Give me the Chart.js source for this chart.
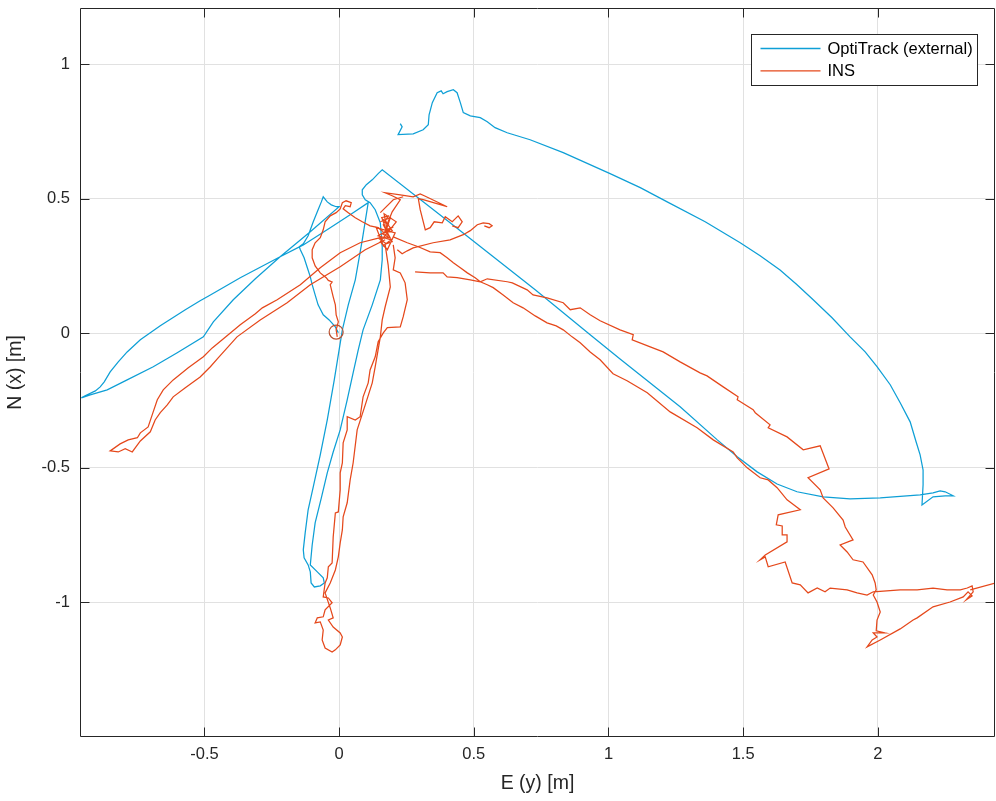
<!DOCTYPE html>
<html><head><meta charset="utf-8">
<script src="https://cdn.jsdelivr.net/npm/chart.js@4.4.0/dist/chart.umd.min.js"></script>
<style>html,body{margin:0;padding:0;background:#fff;}canvas{display:block;}</style>
</head><body>
<canvas id="c" width="996" height="801"></canvas>
<script>
// ---------- data (E [m], N [m]) ----------
const seriesNames = ['OptiTrack (external)', 'INS'];
const xTicks = [-0.5, 0, 0.5, 1, 1.5, 2];
const yTicks = [-1, -0.5, 0, 0.5, 1];
const xRange = [-0.962, 2.435];
const yRange = [-1.502, 1.209];
const startPoint = [[-0.011, 0.004]];

const optiTrackPath = [
[-0.003,0.001],[-0.014,0.023],[-0.037,0.049],[-0.059,0.068],[-0.078,0.105],[-0.089,0.142],[-0.100,0.180],[-0.107,0.209],[-0.118,0.243],[-0.130,0.280],[-0.144,0.310],[-0.148,0.321],
[-0.133,0.332],[-0.115,0.362],[-0.096,0.414],[-0.078,0.459],[-0.066,0.488],[-0.059,0.507],
[-0.044,0.488],[-0.029,0.477],[-0.011,0.470],[0.000,0.470],
[-0.107,0.377],[-0.219,0.284],[-0.311,0.202],[-0.393,0.124],[-0.467,0.042],[-0.504,-0.014],[-0.601,-0.073],[-0.690,-0.125],[-0.787,-0.174],[-0.861,-0.211],[-0.924,-0.230],[-0.957,-0.241],
[-0.943,-0.233],[-0.905,-0.215],[-0.887,-0.200],[-0.872,-0.181],[-0.850,-0.144],[-0.820,-0.107],[-0.787,-0.070],[-0.738,-0.025],[-0.664,0.027],[-0.571,0.087],[-0.516,0.120],[-0.478,0.142],[-0.367,0.206],[-0.219,0.284],[-0.133,0.328],[-0.033,0.392],[0.041,0.440],[0.108,0.485],
[0.086,0.347],[0.060,0.198],[0.034,0.105],[0.012,0.012],[-0.018,-0.174],[-0.044,-0.323],[-0.070,-0.453],[-0.096,-0.572],[-0.115,-0.657],[-0.126,-0.743],[-0.133,-0.806],[-0.130,-0.836],[-0.115,-0.862],[-0.107,-0.888],[-0.104,-0.929],[-0.092,-0.944],[-0.070,-0.940],[-0.055,-0.929],[-0.059,-0.910],[-0.081,-0.888],[-0.107,-0.862],
[-0.100,-0.788],[-0.089,-0.706],[-0.066,-0.613],[-0.044,-0.520],[-0.022,-0.442],[0.004,-0.360],[0.030,-0.248],[0.052,-0.148],[0.071,-0.062],[0.089,0.012],[0.123,0.105],[0.153,0.198],[0.160,0.273],[0.160,0.321],[0.153,0.410],[0.134,0.459],[0.115,0.485],
[0.097,0.496],[0.086,0.514],[0.086,0.533],[0.101,0.552],[0.123,0.570],[0.145,0.593],[0.160,0.607],
[0.412,0.410],[0.728,0.161],[0.932,-0.006],[1.043,-0.096],[1.266,-0.274],[1.404,-0.397],[1.478,-0.460],[1.552,-0.516],[1.626,-0.561],[1.700,-0.590],[1.797,-0.609],[1.897,-0.616],[2.009,-0.613],[2.157,-0.602],[2.205,-0.594],[2.231,-0.587],[2.250,-0.590],[2.280,-0.605],[2.250,-0.605],[2.205,-0.609],[2.164,-0.639],
[2.168,-0.564],[2.168,-0.509],[2.157,-0.453],[2.142,-0.404],[2.120,-0.330],[2.083,-0.259],[2.046,-0.192],[1.997,-0.125],[1.953,-0.070],[1.897,-0.014],[1.830,0.057],[1.760,0.124],[1.700,0.180],[1.637,0.235],[1.563,0.288],[1.489,0.336],[1.359,0.414],[1.218,0.488],[1.118,0.541],[1.006,0.593],[0.832,0.671],[0.709,0.719],[0.624,0.745],[0.579,0.764],[0.550,0.786],[0.524,0.801],[0.487,0.808],[0.461,0.820],[0.450,0.857],[0.438,0.894],[0.424,0.905],[0.401,0.898],[0.386,0.890],[0.379,0.901],[0.364,0.894],[0.346,0.857],[0.334,0.812],[0.331,0.775],[0.312,0.756],[0.275,0.741],[0.219,0.738],[0.234,0.767],[0.227,0.779]
];

// INS trajectory pieces
const insStartClimb = [
[-0.007,-0.014],[-0.011,0.012],[-0.003,0.042],[-0.011,0.068],[-0.014,0.105],[-0.022,0.135],[-0.033,0.180],[-0.026,0.190],[-0.040,0.196],[-0.048,0.206],[-0.070,0.224],[-0.089,0.250],[-0.100,0.280],[-0.100,0.310],[-0.089,0.336],[-0.070,0.355],[-0.059,0.384],[-0.052,0.414],[-0.033,0.436],[-0.011,0.448],[0.004,0.462],[0.012,0.485],[0.026,0.492],[0.045,0.485],[0.041,0.470],[0.023,0.474],[0.015,0.462],[0.034,0.448],[0.060,0.429],[0.086,0.414],[0.115,0.399],[0.145,0.392],[0.164,0.377]
];
const insWestLoop = [
[0.153,0.355],[0.078,0.336],[0.004,0.299],[-0.070,0.243],[-0.144,0.180],[-0.230,0.124],[-0.285,0.094],[-0.311,0.072],[-0.367,0.031],[-0.434,-0.025],[-0.471,-0.055],[-0.504,-0.088],[-0.560,-0.129],[-0.616,-0.174],[-0.653,-0.211],[-0.675,-0.248],[-0.694,-0.304],[-0.709,-0.349],[-0.738,-0.371],[-0.749,-0.389],[-0.783,-0.397],[-0.813,-0.412],[-0.850,-0.438],[-0.820,-0.442],[-0.794,-0.430],[-0.768,-0.442],[-0.738,-0.401],[-0.701,-0.367],[-0.683,-0.323],[-0.664,-0.296],[-0.638,-0.267],[-0.616,-0.237],[-0.571,-0.203],[-0.516,-0.163],[-0.478,-0.125],[-0.449,-0.092],[-0.379,-0.014],[-0.293,0.049],[-0.193,0.113],[-0.107,0.180],[0.004,0.247],[0.097,0.310],[0.171,0.347]
];
const insTopZigzag = [
[0.171,0.377],[0.182,0.414],[0.197,0.451],[0.227,0.496],[0.197,0.511],[0.171,0.522],[0.227,0.514],[0.275,0.507],[0.301,0.518],[0.316,0.511],[0.401,0.470],[0.312,0.496],[0.294,0.500],[0.301,0.459],[0.320,0.384],[0.338,0.392],[0.353,0.414],[0.383,0.410],[0.394,0.433],[0.420,0.414],[0.442,0.436],[0.457,0.414],[0.442,0.392],[0.420,0.399]
];
const insTopLink = [[0.153,0.448],[0.201,0.496],[0.238,0.507]];
const insEastSpur = [
[0.216,0.310],[0.234,0.295],[0.253,0.306],[0.275,0.317],[0.349,0.336],[0.412,0.347],[0.461,0.366],[0.487,0.381],[0.513,0.403],[0.535,0.410],[0.557,0.407],[0.568,0.399],[0.557,0.392],[0.539,0.399]
];
const insSouthEastRun = [
[0.201,0.358],[0.253,0.336],[0.294,0.321],[0.338,0.302],[0.375,0.299],[0.401,0.280],[0.424,0.262],[0.450,0.243],[0.476,0.224],[0.505,0.206],[0.524,0.191],[0.550,0.180],[0.572,0.169],[0.609,0.142],[0.646,0.113],[0.683,0.094],[0.728,0.064],[0.772,0.038],[0.806,0.027],[0.832,0.012],[0.865,-0.014],[0.895,-0.036],[0.932,-0.070],[0.969,-0.099],[1.017,-0.151],[1.069,-0.177],[1.144,-0.222],[1.229,-0.293],[1.329,-0.352],[1.389,-0.397],[1.463,-0.442],[1.478,-0.464],[1.515,-0.501],[1.563,-0.538],[1.593,-0.546],[1.626,-0.575],[1.663,-0.620],[1.674,-0.628],[1.712,-0.657],[1.630,-0.676],[1.623,-0.713],[1.645,-0.717],[1.645,-0.750],[1.663,-0.750],[1.663,-0.776],[1.582,-0.825],[1.563,-0.843],[1.582,-0.832],[1.593,-0.869],[1.656,-0.851],[1.682,-0.929],[1.712,-0.936],[1.741,-0.966],[1.775,-0.948],[1.804,-0.962],[1.823,-0.948],[1.886,-0.955],[1.923,-0.966],[1.960,-0.974],[1.983,-0.962],
[2.083,-0.955],[2.146,-0.955],[2.205,-0.948],[2.257,-0.955],[2.306,-0.955],[2.332,-0.948],
[2.350,-0.940],[2.354,-0.962],[2.328,-0.992],[2.350,-0.977],[2.335,-0.962],[2.317,-0.981],
[2.268,-1.000],[2.205,-1.018],[2.146,-1.059],[2.131,-1.067],[2.083,-1.100],[2.009,-1.141],[1.960,-1.167],
[1.979,-1.141],[1.997,-1.130],[1.983,-1.115],[2.027,-1.115],[1.994,-1.107],[1.997,-1.067],[2.009,-1.037],[1.997,-1.000],[1.983,-0.974],[1.994,-0.955],[1.990,-0.929],[1.979,-0.899],[1.945,-0.851],[1.908,-0.843],[1.886,-0.814],[1.860,-0.788],[1.908,-0.769],[1.879,-0.721],[1.871,-0.695],[1.834,-0.650],[1.797,-0.613],[1.786,-0.583],[1.741,-0.538],[1.819,-0.505],[1.786,-0.419],[1.723,-0.434],[1.663,-0.386],[1.593,-0.352],[1.600,-0.341],[1.545,-0.296],[1.537,-0.285],[1.478,-0.248],[1.481,-0.237],[1.426,-0.200],[1.366,-0.159],[1.340,-0.148],[1.266,-0.107],[1.203,-0.070],[1.155,-0.051],[1.088,-0.025],[1.092,-0.006],[1.043,0.012],[0.969,0.046],[0.932,0.068],[0.895,0.094],[0.858,0.087],[0.832,0.113],[0.772,0.131],[0.720,0.142],[0.698,0.161],[0.643,0.187],[0.624,0.191],[0.550,0.202],[0.524,0.191],[0.487,0.198],[0.438,0.206],[0.401,0.209],[0.386,0.224],[0.338,0.224],[0.282,0.228]
];
const insEastExit = [[2.343,-0.955],[2.439,-0.929],[2.503,-0.910]];
const insSouthLoop = [
[0.201,0.328],[0.208,0.280],[0.201,0.235],[0.227,0.224],[0.245,0.187],[0.253,0.124],[0.238,0.061],[0.227,0.023],[0.179,0.020],[0.164,0.001],[0.145,-0.032],[0.134,-0.088],[0.115,-0.137],[0.108,-0.185],[0.089,-0.237],[0.078,-0.311],[0.060,-0.323],[0.030,-0.311],[0.030,-0.360],[0.015,-0.408],[0.012,-0.483],[0.004,-0.520],[0.004,-0.583],[-0.003,-0.665],[-0.014,-0.669],[-0.022,-0.758],[-0.026,-0.855],[-0.040,-0.869],[-0.044,-0.910],[-0.052,-0.929],[-0.059,-0.981],
[-0.040,-0.985],[-0.026,-1.003],[-0.052,-1.029],[-0.059,-1.055],[-0.081,-1.059],[-0.089,-1.078],[-0.070,-1.074],[-0.059,-1.104],[-0.063,-1.141],[-0.052,-1.171],[-0.026,-1.186],[-0.014,-1.178],[0.004,-1.160],[0.012,-1.130],[0.004,-1.115],[-0.022,-1.093],[-0.040,-1.067],[-0.022,-1.059],[-0.033,-1.022],[-0.052,-0.966],
[-0.033,-0.929],[-0.014,-0.881],[-0.003,-0.832],[0.004,-0.780],[0.012,-0.732],[0.015,-0.683],[0.030,-0.631],[0.041,-0.546],[0.052,-0.483],[0.067,-0.360],[0.097,-0.267],[0.123,-0.185],[0.134,-0.125],[0.153,-0.014],[0.160,0.049],[0.171,0.098],[0.190,0.172],[0.182,0.254],[0.171,0.328]
];
const insHubScribble = [
[0.153,0.414],[0.190,0.429],[0.175,0.384],[0.201,0.395],[0.145,0.362],[0.193,0.347],[0.164,0.325],[0.138,0.392],[0.208,0.373],[0.179,0.310],[0.153,0.340],[0.212,0.414],[0.167,0.444],[0.182,0.362],
[0.160,0.425],[0.186,0.400],[0.171,0.418],[0.197,0.381],[0.160,0.370],[0.186,0.355],[0.149,0.351],[0.175,0.332],[0.197,0.340],[0.164,0.403],[0.182,0.436],[0.156,0.429]
];

// ---------- chart ----------
const BLUE = '#0E9FD6', RED = '#E5481B', START = '#B9502F';
const FONT = '"Liberation Sans", Arial, Helvetica, sans-serif';
const toXY = arr => arr.map(p => ({x: p[0], y: p[1]}));
const lineDs = (arr, color, order, label) => ({
  label: label, data: toXY(arr), showLine: true, borderColor: color, backgroundColor: color,
  borderWidth: 1.25, pointRadius: 0, tension: 0, fill: false, order: order
});
const insPieces = [insStartClimb, insWestLoop, insTopZigzag, insTopLink, insEastSpur, insSouthEastRun, insEastExit, insSouthLoop, insHubScribble];
const datasets = [lineDs(optiTrackPath, BLUE, 2, seriesNames[0])];
insPieces.forEach((p, i) => datasets.push(lineDs(p, RED, 1, i === 0 ? seriesNames[1] : '')));
datasets.push({label: '', data: toXY(startPoint), showLine: false, pointRadius: 7, pointBorderWidth: 1.2,
  pointBorderColor: START, pointBackgroundColor: 'rgba(0,0,0,0)', order: 0});

const framePlugin = {
  id: 'frame',
  afterDraw(chart) {
    const {ctx, chartArea: a, scales: {x, y}} = chart;
    ctx.save();
    const L = Math.round(a.left) + 0.5, R = Math.round(a.right) - 0.5, T = Math.round(a.top) + 0.5, B = Math.round(a.bottom) - 0.5;
    ctx.strokeStyle = '#262626'; ctx.lineWidth = 1;
    ctx.beginPath();
    ctx.rect(L, T, R - L, B - T);
    const tl = 9;
    xTicks.forEach(v => { const px = Math.round(x.getPixelForValue(v)) + 0.5;
      ctx.moveTo(px, B); ctx.lineTo(px, B - tl); ctx.moveTo(px, T); ctx.lineTo(px, T + tl); });
    yTicks.forEach(v => { const py = Math.round(y.getPixelForValue(v)) + 0.5;
      ctx.moveTo(L, py); ctx.lineTo(L + tl, py); ctx.moveTo(R, py); ctx.lineTo(R - tl, py); });
    ctx.stroke();
    // legend
    const items = [{label: seriesNames[0], color: BLUE}, {label: seriesNames[1], color: RED}];
    ctx.font = '16.5px ' + FONT;
    const tw = Math.max(...items.map(i => ctx.measureText(i.label).width));
    const padL = 9, lineLen = 60, gap = 7, padR = 5, rowH = 22.4, h = 51;
    const w = Math.round(padL + lineLen + gap + tw + padR);
    const bx = Math.round(a.right - 18 - w) + 0.5, by = Math.round(a.top + 26) + 0.5;
    ctx.fillStyle = '#fff'; ctx.fillRect(bx, by, w, h);
    ctx.strokeStyle = '#262626'; ctx.lineWidth = 1; ctx.strokeRect(bx, by, w, h);
    items.forEach((it, i) => {
      const cy = by + 14 + i * rowH;
      ctx.strokeStyle = it.color; ctx.lineWidth = 1.3;
      ctx.beginPath(); ctx.moveTo(bx + padL, cy); ctx.lineTo(bx + padL + lineLen, cy); ctx.stroke();
      ctx.fillStyle = '#000'; ctx.textBaseline = 'middle'; ctx.textAlign = 'left';
      ctx.fillText(it.label, bx + padL + lineLen + gap, cy + 1);
    });
    ctx.restore();
  }
};

new Chart(document.getElementById('c'), {
  type: 'scatter',
  data: {datasets},
  options: {
    responsive: false, animation: false, devicePixelRatio: 1,
    events: [],
    layout: {padding: {top: 8, right: 1, left: 0, bottom: 0}, autoPadding: false},
    plugins: {legend: {display: false}, tooltip: {enabled: false}},
    scales: {
      x: {
        type: 'linear', min: xRange[0], max: xRange[1],
        afterBuildTicks: s => { s.ticks = xTicks.map(v => ({value: v})); },
        afterFit: s => { s.height = 64; s.paddingLeft = 0; s.paddingRight = 0; },
        grid: {color: '#e1e1e1', drawTicks: false, lineWidth: 1},
        border: {display: false},
        ticks: {padding: 8, color: '#262626', font: {family: FONT, size: 16.5}, callback: v => String(v), maxRotation: 0, autoSkip: false},
        title: {display: true, text: 'E (y) [m]', color: '#262626', font: {family: FONT, size: 19.5}, padding: {top: 0, bottom: 6}}
      },
      y: {
        type: 'linear', min: yRange[0], max: yRange[1],
        afterBuildTicks: s => { s.ticks = yTicks.map(v => ({value: v})); },
        afterFit: s => { s.width = 80; s.paddingTop = 0; s.paddingBottom = 0; },
        grid: {color: '#e1e1e1', drawTicks: false, lineWidth: 1},
        border: {display: false},
        ticks: {padding: 10, color: '#262626', font: {family: FONT, size: 16.5}, callback: v => String(v), autoSkip: false},
        title: {display: true, text: 'N (x) [m]', color: '#262626', font: {family: FONT, size: 19.5}, padding: {top: 4, bottom: 0}}
      }
    }
  },
  plugins: [framePlugin]
});
</script>
</body></html>
